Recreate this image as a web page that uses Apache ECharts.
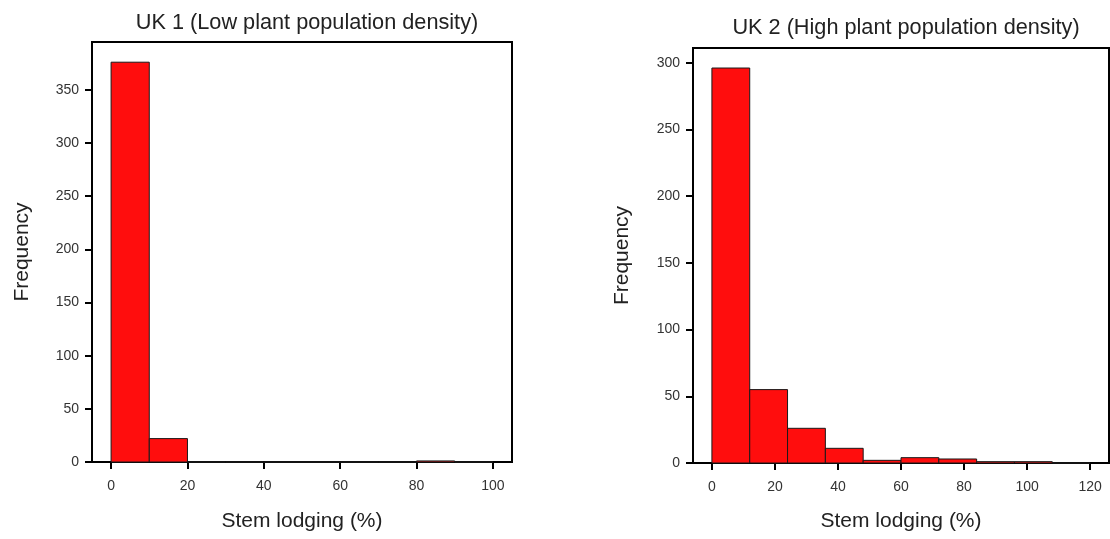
<!DOCTYPE html>
<html>
<head>
<meta charset="utf-8">
<script src="https://cdn.jsdelivr.net/npm/echarts@6/dist/echarts.min.js"></script>
<style>
html,body{margin:0;padding:0;background:#fff;}
#chart{width:1110px;height:539px;}
</style>
</head>
<body>
<div id="chart"></div>
<script>
// ---- Data ----
const uk1Title = 'UK 1 (Low plant population density)';
const uk2Title = 'UK 2 (High plant population density)';
const xAxisName = 'Stem lodging (%)';
const yAxisName = 'Frequency';

const uk1Edges = [0, 10, 20, 30, 40, 50, 60, 70, 80, 90, 100];
const uk1Counts = [376, 22, 0, 0, 0, 0, 0, 0, 1, 0];
const uk1XTicks = [0, 20, 40, 60, 80, 100];
const uk1YTicks = [0, 50, 100, 150, 200, 250, 300, 350];

const uk2Edges = [0, 12, 24, 36, 48, 60, 72, 84, 96, 108, 120];
const uk2Counts = [296, 55, 26, 11, 2, 4, 3, 1, 1, 0];
const uk2XTicks = [0, 20, 40, 60, 80, 100, 120];
const uk2YTicks = [0, 50, 100, 150, 200, 250, 300];

function bins(edges, counts) {
  return counts.map((c, i) => [edges[i], edges[i + 1], c]);
}

const FONT = '"Liberation Sans", Arial, sans-serif';

function renderItem(params, api) {
  const p0 = api.coord([api.value(0), api.value(2)]);
  const p1 = api.coord([api.value(1), 0]);
  return {
    type: 'rect',
    shape: { x: p0[0], y: p0[1], width: p1[0] - p0[0], height: p1[1] - p0[1] },
    style: { fill: '#ff0d0d', stroke: '#1a1a1a', lineWidth: 1 }
  };
}

function xAxis(gridIndex, min, max, ticks, gap) {
  return {
    type: 'value', gridIndex, min, max,
    name: xAxisName, nameLocation: 'middle', nameGap: gap,
    nameTextStyle: { fontFamily: FONT, fontSize: 21, color: '#222' },
    splitLine: { show: false },
    axisLine: { show: true, onZero: false, lineStyle: { color: '#000', width: 2 } },
    axisTick: { show: true, length: 7, customValues: ticks, lineStyle: { color: '#000', width: 2 } },
    axisLabel: { customValues: ticks, margin: 17, fontFamily: FONT, fontSize: 14, color: '#333' }
  };
}
function yAxis(gridIndex, max, ticks, gap) {
  return {
    type: 'value', gridIndex, min: 0, max,
    name: yAxisName, nameLocation: 'middle', nameGap: gap, nameRotate: 90,
    nameTextStyle: { fontFamily: FONT, fontSize: 21, color: '#222' },
    splitLine: { show: false },
    axisLine: { show: true, onZero: false, lineStyle: { color: '#000', width: 2 } },
    axisTick: { show: true, length: 7, customValues: ticks, lineStyle: { color: '#000', width: 2 } },
    axisLabel: { customValues: ticks, margin: 13, fontFamily: FONT, fontSize: 14, color: '#333' }
  };
}

const chart = echarts.init(document.getElementById('chart'));
chart.setOption({
  animation: false,
  backgroundColor: '#fff',
  title: [
    { text: uk1Title, left: 302, top: 7, textAlign: 'center',
      textStyle: { fontFamily: FONT, fontSize: 21.7, fontWeight: 'normal', color: '#222' } },
    { text: uk2Title, left: 901, top: 12, textAlign: 'center',
      textStyle: { fontFamily: FONT, fontSize: 21.7, fontWeight: 'normal', color: '#222' } }
  ],
  grid: [
    { left: 92, top: 42, width: 420, height: 420, show: true, borderColor: '#000', borderWidth: 2, backgroundColor: 'transparent' },
    { left: 693, top: 48, width: 416, height: 415, show: true, borderColor: '#000', borderWidth: 2, backgroundColor: 'transparent' }
  ],
  xAxis: [xAxis(0, -5, 105, uk1XTicks, 49), xAxis(1, -6, 126, uk2XTicks, 48)],
  yAxis: [yAxis(0, 395, uk1YTicks, 59), yAxis(1, 311, uk2YTicks, 60)],
  series: [
    { type: 'custom', xAxisIndex: 0, yAxisIndex: 0, renderItem,
      encode: { x: [0, 1], y: 2 }, data: bins(uk1Edges, uk1Counts) },
    { type: 'custom', xAxisIndex: 1, yAxisIndex: 1, renderItem,
      encode: { x: [0, 1], y: 2 }, data: bins(uk2Edges, uk2Counts) }
  ]
});
</script>
</body>
</html>
